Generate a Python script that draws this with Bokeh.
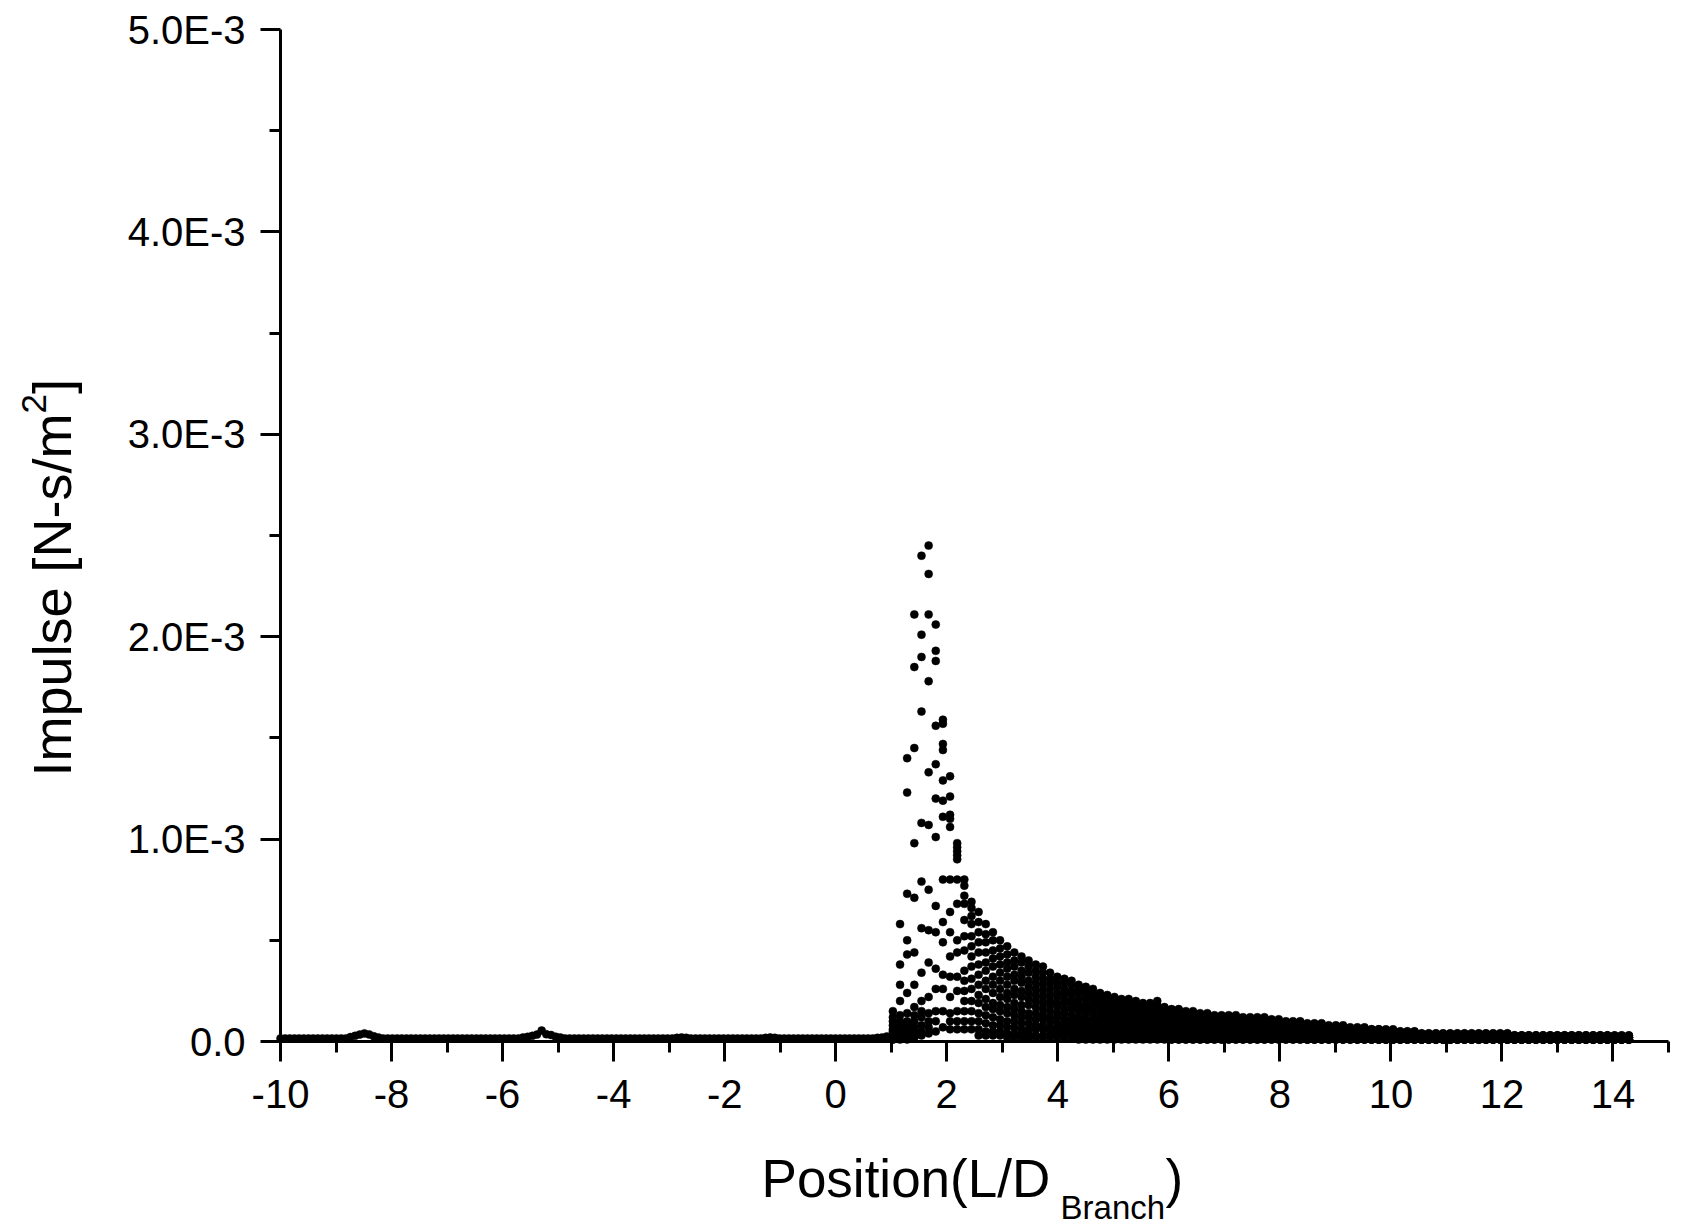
import numpy as np
from bokeh.plotting import figure
from bokeh.models import Range1d, FixedTicker, CustomJSTickFormatter, Label, ColumnDataSource
from bokeh.embed import file_html
from bokeh.resources import INLINE

# ---------------- data (impulse values in units of 1e-5 N-s/m^2) ----------------
X_MAJOR = [-10, -8, -6, -4, -2, 0, 2, 4, 6, 8, 10, 12, 14]
X_MINOR = [-9, -7, -5, -3, -1, 1, 3, 5, 7, 9, 11, 13, 15]
Y_MAJOR = [0.0, 0.001, 0.002, 0.003, 0.004, 0.005]
Y_MINOR = [0.0005, 0.0015, 0.0025, 0.0035, 0.0045]

# upstream pipe sensors (x from -10 to ~0.9, regular spacing)
x_upstream = np.round(-10 + 0.084 * np.arange(131), 3)
y_upstream = """
1.5 1.5 1.5 1.5 1.5 1.5 1.5 1.5 1.5 1.5 1.5 1.5 1.5 1.5 1.5
2.2 2.8 3.4 4.0 3.5 2.6 2.0
1.5 1.5 1.5 1.5 1.5 1.5 1.5 1.5 1.5 1.5 1.5 1.5 1.5 1.5 1.5
1.5 1.5 1.5 1.5 1.5 1.5 1.5 1.5 1.5 1.5 1.5 1.5 1.5 1.5 1.5
2.0 2.3 2.8 3.4 5.4 3.6 3.2 2.4 2.0
1.5 1.5 1.5 1.5 1.5 1.5 1.5 1.5 1.5 1.5 1.5 1.5
1.5 1.5 1.5 1.5 1.5 1.5 1.5 1.5 1.5 1.5 1.5 1.5
1.8 2.0 1.8
1.5 1.5 1.5 1.5 1.5 1.5 1.5 1.5 1.5 1.5 1.5 1.5 1.5 1.5 1.5 1.5
1.8 2.0 1.8
1.5 1.5 1.5 1.5 1.5 1.5 1.5 1.5 1.5 1.5 1.5 1.5 1.5 1.5 1.5 1.5 1.5 1.5 1.5 1.5 1.5
1.8 2.0 2.5
"""

# branch-side sensors (x from 1.03 to 14.29, regular spacing)
x_branch = np.round(1.03 + 0.1287 * np.arange(104), 3)

s00 = """15 58 140 211 240 245 206 159 131 98 80 69
64 58 54 50 47 44 42 40 38 37 34 32 31 30 28 27 26 24 23 22
21 21 20 19 19 20 17 16 16 15 15 14 14 13 13 13 13 12 12 12
12 11 11 10 10 10 9 9 9 8 8 8 7 7 7 6 6 6 6 5
5 5 4 4 4 4 4 4 4 4 4 4 4 4 4 3 3 3 3 3
3 3 3 3 3 3 3 3 3 3 3 3"""
s01 = """12 38 123 185 201 231 193 157 121 96 77 66
59 53 50 46 43 40 39 37 35 34 31 29 29 28 26 25 24 22 21 20
19 19 18 17 17 18 16 15 15 14 14 13 13 12 12 12 12 11 11 11
11 10 10 9 9 9 8 8 8 7 7 7 6 6 6 6 6 5 5 5
5 5 4 4 4 4 4 4 4 4 4 4 4 4 4 3 3 3 3 3
3 3 3 3 3 3 3 3 3 3 3 3"""
s02 = """10 28 73 145 190 211 188 147 112 94 72 62
54 49 45 42 39 37 35 34 32 31 29 27 26 25 24 23 22 20 19 18
18 18 17 16 16 17 14 13 13 13 13 12 12 11 11 11 11 10 10 10
10 9 9 8 8 8 8 8 8 7 7 7 6 6 6 5 5 5 5 4
4 4 3 3 3 3 3 3 3 3 3 3 3 3 3 3 3 3 3 3
3 3 3 3 3 3 3 3 3 2 2 2"""
s03 = """8 20 50 98 163 178 156 144 110 92 68 58
49 44 41 38 36 33 32 30 29 28 26 24 24 23 21 21 20 18 17 17
16 16 15 14 14 15 13 12 12 11 11 11 11 10 10 10 10 9 9 9
9 8 8 8 8 8 7 7 7 6 6 6 5 5 5 5 5 5 5 4
4 4 3 3 3 3 3 3 3 3 3 3 3 3 3 2 2 2 2 2
2 2 2 2 2 2 2 2 2 2 2 2"""
s04 = """6 13 43 71 108 133 137 129 106 90 60 52
44 39 37 34 32 30 29 27 26 25 23 22 21 20 19 18 18 16 16 15
14 14 14 13 13 14 12 11 11 10 10 10 10 9 9 9 9 8 8 8
8 7 7 7 7 7 6 6 6 5 5 5 5 5 5 4 4 4 4 3
3 3 3 3 3 3 3 3 3 3 3 3 3 3 3 2 2 2 2 2
2 2 2 2 2 2 2 2 2 2 2 2"""
s05 = """5 10 24 44 79 107 120 119 80 80 52 47
38 35 32 30 28 26 25 24 23 22 20 19 19 18 17 16 16 14 14 13
13 13 12 11 11 12 10 10 10 9 9 8 8 8 8 8 8 7 7 7
7 7 7 6 6 6 5 5 5 5 5 5 4 4 4 4 4 4 4 3
3 3 2 2 2 2 2 2 2 2 2 2 2 2 2 2 2 2 2 2
2 2 2 2 2 2 2 2 2 2 2 2"""
s06 = """4 8 14 28 56 75 101 111 64 68 45 42
33 30 28 26 24 23 22 21 20 19 18 17 16 16 15 14 14 12 12 11
11 11 10 10 10 10 9 8 8 8 8 7 7 7 7 7 7 6 6 6
6 6 6 5 5 5 5 5 5 4 4 4 4 4 4 3 3 3 3 3
3 3 2 2 2 2 2 2 2 2 2 2 2 2 2 2 2 2 2 2
2 2 2 2 2 2 2 2 2 2 2 2"""
s07 = """3 6 10 17 34 55 67 80 54 50 35 37
28 26 24 22 21 19 18 18 17 16 15 14 14 13 12 12 11 11 10 10
9 9 9 8 8 9 7 7 7 7 7 6 6 6 6 6 6 5 5 5
5 5 5 4 4 4 4 4 4 4 4 4 3 3 3 3 3 3 3 2
2 2 2 2 2 2 2 2 2 2 2 2 2 2 2 2 2 2 2 2
2 2 2 2 2 2 2 2 2 2 2 2"""
s08 = """3 4 8 13 20 39 54 59 42 44 30 31
23 21 19 18 17 16 15 14 14 13 12 12 11 11 10 10 9 9 8 8
8 8 7 7 7 7 6 6 6 5 5 5 5 5 5 5 5 4 4 4
4 4 4 4 4 4 3 3 3 3 3 3 3 3 3 2 2 2 2 2
2 2 2 2 2 2 2 2 2 2 2 2 2 2 2 1 1 1 1 1
1 1 1 1 1 1 1 1 1 1 1 1"""
s09 = """2 3 6 10 15 22 36 49 32 32 25 26
19 17 16 15 14 13 12 12 11 11 10 9 9 9 8 8 8 7 7 6
6 6 6 6 6 6 5 5 5 4 4 4 4 4 4 4 4 3 3 3
3 3 3 3 3 3 3 3 3 2 2 2 2 2 2 2 2 2 2 2
2 2 1 1 1 1 1 1 1 1 1 1 1 1 1 1 1 1 1 1
1 1 1 1 1 1 1 1 1 1 1 1"""
s10 = """2 3 4 7 12 14 26 33 22 25 20 20
14 13 12 11 10 10 9 9 8 8 7 7 7 7 6 6 6 5 5 5
5 5 4 4 4 4 4 4 4 3 3 3 3 3 3 3 3 3 3 3
3 2 2 2 2 2 2 2 2 2 2 2 2 2 2 1 1 1 1 1
1 1 1 1 1 1 1 1 1 1 1 1 1 1 1 1 1 1 1 1
1 1 1 1 1 1 1 1 1 1 1 1"""
s11 = """2 2 3 5 8 10 15 26 14 15 15 15
10 9 8 8 7 7 6 6 6 6 5 5 5 5 4 4 4 4 3 3
3 3 3 3 3 3 3 2 2 2 2 2 2 2 2 2 2 2 2 2
2 2 2 2 2 2 1 1 1 1 1 1 1 1 1 1 1 1 1 1
1 1 1 1 1 1 1 1 1 1 1 1 1 1 1 1 1 1 1 1
1 1 1 1 1 1 1 1 1 1 1 1"""
s12 = """1 2 2 3 5 7 10 15 10 10 10 10
6 5 5 5 4 4 4 4 3 3 3 3 3 3 3 2 2 2 2 2
2 2 2 2 2 2 2 1 1 1 1 1 1 1 1 1 1 1 1 1
1 1 1 1 1 1 1 1 1 1 1 1 1 1 1 1 1 1 1 1
1 1 1 1 1 1 1 1 1 1 1 1 1 1 1 1 1 1 1 1
1 1 1 1 1 1 1 1 1 1 1 1"""
s13 = """1 1 1 2 3 4 5 7 6 6 6 6
3 3 3 3 2 2 2 2 2 2 2 2 2 2 1 1 1 1 1 1
1 1 1 1 1 1 1 1 1 1 1 1 1 1 1 1 1 1 1 1
1 1 1 1 1 1 1 1 1 1 1 1 1 1 1 1 1 1 1 1
1 1 1 1 1 1 1 1 1 1 1 1 1 1 1 1 1 1 1 1
1 1 1 1 1 1 1 1 1 1 1 1"""
branch_series = [s00, s01, s02, s03, s04, s05, s06, s07, s08, s09, s10, s11, s12, s13]


def parse(s):
    return [float(v) * 1e-5 for v in s.split()]


# ---------------- figure ----------------
# The frame fills the whole canvas; the axes are pinned (fixed_location) at
# x=-10 / y=0 and bounded to the data window, so titles can sit outside it.
FONT = "Liberation Sans"
W, H = 1704, 1230
PX_X = 1388 / 25.0          # pixels per x unit
PX_Y = 1012 / 0.005         # pixels per y unit
x_rng = Range1d(-10 - 280 / PX_X, 15 + (W - 1668) / PX_X)
y_rng = Range1d(-(H - 1041) / PX_Y, 0.005 + 29 / PX_Y)

p = figure(width=W, height=H, output_backend="svg", toolbar_location=None,
           x_range=x_rng, y_range=y_rng,
           min_border_left=0, min_border_right=0, min_border_top=0, min_border_bottom=0)
p.outline_line_color = None
p.grid.visible = False
p.background_fill_color = "white"
p.border_fill_color = "white"

xs, ys = [], []
yu = parse(y_upstream)
assert len(yu) == len(x_upstream), len(yu)
xs += list(x_upstream)
ys += yu
for s in branch_series:
    v = parse(s)
    assert len(v) == len(x_branch), len(v)
    xs += list(x_branch)
    ys += v
src = ColumnDataSource(dict(x=xs, y=ys))
p.scatter("x", "y", source=src, marker="circle", size=8, fill_color="black",
          line_color="black", line_width=0.5)

for ax in (p.xaxis[0], p.yaxis[0]):
    ax.axis_line_width = 3
    ax.axis_line_color = "black"
    ax.major_tick_line_width = 3
    ax.minor_tick_line_width = 3
    ax.major_tick_line_color = "black"
    ax.minor_tick_line_color = "black"
    ax.major_tick_out = 20
    ax.major_tick_in = 0
    ax.minor_tick_out = 11
    ax.minor_tick_in = 0
    ax.major_label_text_font = FONT
    ax.major_label_text_font_size = "40px"
    ax.major_label_text_color = "black"
    ax.axis_label = None

xa, ya = p.xaxis[0], p.yaxis[0]
xa.fixed_location = 0.0
xa.bounds = (-10, 15)
ya.fixed_location = -10.0
ya.bounds = (0.0, 0.005)
xa.major_label_standoff = 18
ya.major_label_standoff = 15

xa.ticker = FixedTicker(ticks=X_MAJOR, minor_ticks=X_MINOR)
ya.ticker = FixedTicker(ticks=Y_MAJOR, minor_ticks=Y_MINOR)
xa.formatter = CustomJSTickFormatter(code="return tick.toFixed(0);")
ya.formatter = CustomJSTickFormatter(
    code="if (Math.abs(tick) < 1e-12) { return '0.0'; } return (tick*1000).toFixed(1) + 'E-3';")


# axis titles (built from pieces so the sub/superscripts are real text)
def lab(x, y, text, size, angle=0.0):
    p.add_layout(Label(x=x, y=y, text=text, text_font=FONT, text_font_size=size,
                       text_color="black", text_align="left", text_baseline="alphabetic",
                       angle=angle))


lab(-1.336, -6.769e-4, "Position(L/D", "53px")
lab(4.05, -8.22e-4, "Branch", "33px")
lab(5.94, -6.769e-4, ")", "53px")

lab(-14.119, 1.3093e-3, "Impulse [N-s/m", "54px", np.pi / 2)
lab(-14.444, 3.1028e-3, "2", "35px", np.pi / 2)
lab(-14.119, 3.199e-3, "]", "54px", np.pi / 2)

open("out.html", "w").write(file_html(p, INLINE))
